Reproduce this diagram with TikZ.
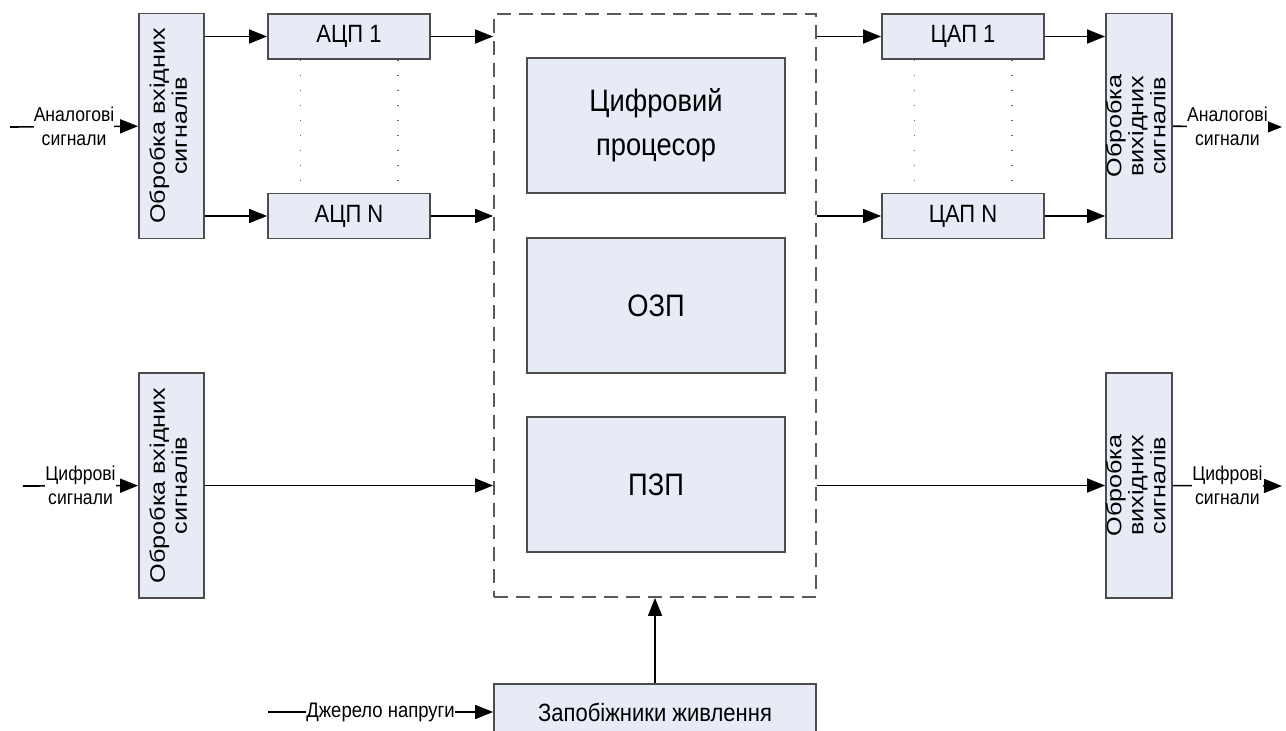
\documentclass[tikz,border=0pt]{standalone}
\usepackage{fontspec}
\setmainfont{Liberation Sans}
\newfontfamily\condfont[FakeStretch=0.88]{Liberation Sans}
\newfontfamily\widefont[FakeStretch=1.2]{Liberation Sans}
\usetikzlibrary{arrows.meta}

\definecolor{boxfill}{RGB}{231,235,246}
\newcommand{\vlabel}[1]{\rotatebox{90}{\begin{tabular}{@{}c@{}}#1\end{tabular}}}

\begin{document}
\begin{tikzpicture}[x=1pt,y=-1pt,>={Triangle[length=18pt,width=14pt]},
  blk/.style={draw=black!70,line width=1.8pt,fill=boxfill,inner sep=0pt,align=center,font=\condfont\fontsize{25}{27}\selectfont},
  bigblk/.style={blk,minimum width=258pt,minimum height=135pt,font=\condfont\fontsize{31}{44}\selectfont},
  conv/.style={blk,minimum width=162pt,minimum height=45pt},
  sigbox/.style={blk,minimum width=65pt,minimum height=225pt,font=\widefont\fontsize{21}{22}\selectfont},
  sig/.style={fill=white,inner sep=0pt,align=center,font=\condfont\fontsize{20}{24}\selectfont},
  wire/.style={line width=1.6pt,->},
  dots/.style={black!60,line width=1.2pt,dash pattern=on 1pt off 14pt}]
  \useasboundingbox (0,0) rectangle (1286,731);
  \clip (0,0) rectangle (1286,731);
  % processor frame
  \node[draw=black!65,line width=1.8pt,dash pattern=on 14pt off 8pt,minimum width=322pt,minimum height=583pt] (dsp) at (655,305.5) {};
  \node[bigblk] (cpu) at (656,125.5) {Цифровий\\процесор};
  \node[bigblk] (ram) at (656,305.5) {ОЗП};
  \node[bigblk] (rom) at (656,484.5) {ПЗП};
  % analog path
  \node[sigbox] (inA) at (171.5,126) {\vlabel{Обробка вхідних\\сигналів}};
  \node[conv] (adc1) at (349,36.5) {АЦП 1};
  \node[conv] (adcN) at (349,216) {АЦП N};
  \node[conv] (dac1) at (963,36.5) {ЦАП 1};
  \node[conv] (dacN) at (963,216) {ЦАП N};
  \node[sigbox] (outA) at (1139,126) {\vlabel{Обробка\\вихідних\\сигналів}};
  % digital path
  \node[sigbox] (inD) at (171.5,485.5) {\vlabel{Обробка вхідних\\сигналів}};
  \node[sigbox] (outD) at (1139,485.5) {\vlabel{Обробка\\вихідних\\сигналів}};
  % power
  \node[blk,minimum width=322pt,minimum height=56pt,font=\condfont\fontsize{25}{27}\selectfont] (pwr) at (655,712) {Запобіжники живлення};
  \coordinate (ainA) at (10,127);
  \coordinate (aoutA) at (1282,127);
  \coordinate (ainD) at (23,486);
  \coordinate (aoutD) at (1282,486);
  \coordinate (src) at (268,712);

  \draw[wire] (ainA) -- node[sig] (lblAin) {Аналогові\\сигнали} (inA);
  \draw[wire] (adc1.west -| inA.east) -- (adc1);
  \draw[wire] (adcN.west -| inA.east) -- (adcN);
  \draw[wire] (adc1) -- (adc1.east -| dsp.west);
  \draw[wire] (adcN) -- (adcN.east -| dsp.west);
  \draw[wire] (dac1.west -| dsp.east) -- (dac1);
  \draw[wire] (dacN.west -| dsp.east) -- (dacN);
  \draw[wire] (dac1) -- (dac1.east -| outA.west);
  \draw[wire] (dacN) -- (dacN.east -| outA.west);
  \draw[wire] (outA) -- node[sig] (lblAout) {Аналогові\\сигнали} (aoutA);
  \draw[dots] ([xshift=33pt]adc1.south west) -- ([xshift=33pt]adcN.north west);
  \draw[dots] ([xshift=-33pt]adc1.south east) -- ([xshift=-33pt]adcN.north east);
  \draw[dots] ([xshift=33pt]dac1.south west) -- ([xshift=33pt]dacN.north west);
  \draw[dots] ([xshift=-33pt]dac1.south east) -- ([xshift=-33pt]dacN.north east);

  \draw[wire] (ainD) -- node[sig] (lblDin) {Цифрові\\сигнали} (inD);
  \draw[wire] (inD) -- (inD.east -| dsp.west);
  \draw[wire] (outD.west -| dsp.east) -- (outD);
  \draw[wire] (outD) -- node[sig] (lblDout) {Цифрові\\сигнали} (aoutD);

  \draw[wire] (src) -- node[sig,font=\condfont\fontsize{21}{24}\selectfont] (lblsrc) {Джерело напруги} (pwr);
  \draw[wire] (pwr) -- (dsp.south);
\end{tikzpicture}
\end{document}
